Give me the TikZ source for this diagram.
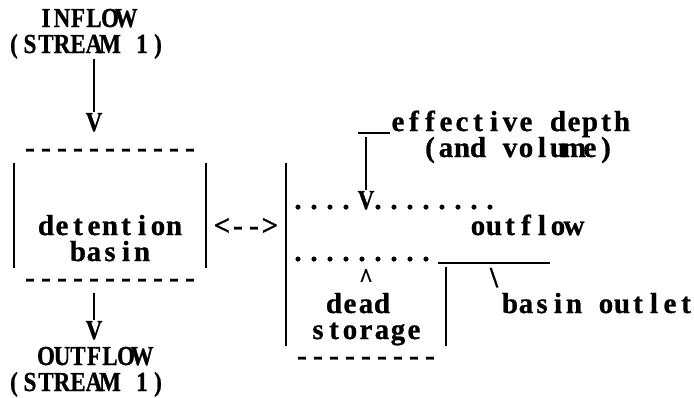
\documentclass[tikz,border=0pt]{standalone}
\usepackage{fontspec}
\usepackage{graphicx}
\setmainfont{Liberation Serif}[BoldFeatures={FakeBold=0.8}]

% fixed-pitch setting: every character sits centred in a cell of \cellw,
% squeezed horizontally by \monosx
\newlength\cellw
\setlength\cellw{16pt}
\def\monosx{1}
\makeatletter
\def\mono@stop{\mono@stop}
\def\mono#1{\mono@words#1 \mono@end}
\def\mono@words#1 #2\mono@end{%
  \mono@chars#1\mono@stop
  \if\relax\detokenize{#2}\relax\else\hbox to\cellw{}\mono@words#2\mono@end\fi}
\def\mono@chars#1{%
  \ifx\mono@stop#1\else
    \hbox to\cellw{\hss\scalebox{\monosx}[1]{#1}\hss}%
    \expandafter\mono@chars\fi}
\makeatother

\tikzset{
  txt/.style={inner sep=0pt, outer sep=0pt, anchor=base west,
              text height=19pt, text depth=6pt,
              font=\bfseries\fontsize{29}{29}\selectfont},
  caps/.style={txt, font=\bfseries\fontsize{27.5}{27.5}\selectfont\def\monosx{0.84}},
  dots/.style={txt, xshift=-4pt},
  pipe/.style={line width=1.8pt},
}

\begin{document}
\begin{tikzpicture}[x=1pt,y=-1pt]
\useasboundingbox (0,0) rectangle (694,397);

% ---- detention basin with inflow and outflow
\node[caps] (inflow)  at (38,27)  {\mono{INFLOW}};
\node[caps] (instrm)  at (6,53)   {\mono{(STREAM 1)}};
\node[caps] (vin)     at (86,131) {\mono{V}};
\node[txt]  (boxtop)  at (22,157) {\mono{-----------}};
\node[txt]  (det)     at (38,235) {\mono{detention}};
\node[txt]  (basin)   at (70,261) {\mono{basin}};
\node[txt]  (boxbot)  at (22,287) {\mono{-----------}};
\node[caps] (vout)    at (86,339) {\mono{V}};
\node[caps] (outflow) at (38,365) {\mono{OUTFLOW}};
\node[caps] (outstrm) at (6,391)  {\mono{(STREAM 1)}};
\node[txt]  (link)    at (214,235){\mono{<-->}};

% ---- cross-section of the basin
\node[txt]  (eff)     at (390,131){\mono{effective depth}};
\node[txt]  (vol)     at (422,157){\mono{(and volume)}};
\node[dots] (dotsA)   at (294,209){\mono{....}};
\node[caps] (vlvl)    at (358,209){\mono{V}};
\node[dots] (dotsB)   at (374,209){\mono{........}};
\node[txt]  (outfl)   at (470,235){\mono{outflow}};
\node[dots] (dotsC)   at (294,261){\mono{.........}};
\node[caps] (caret)   at (358,287){\mono{\textasciicircum}};
\node[txt]  (bslash)  at (486,287){\mono{\textbackslash}};
\node[txt]  (dead)    at (326,313){\mono{dead}};
\node[txt]  (outlet)  at (502,313){\mono{basin outlet}};
\node[txt]  (stor)    at (310,339){\mono{storage}};
\node[txt]  (floor)   at (294,365){\mono{---------}};

% ---- end points of the strokes
\coordinate (inA)   at (94,59);   \coordinate (inB)   at (94,112);
\coordinate (blA)   at (14,163);  \coordinate (blB)   at (14,268);
\coordinate (brA)   at (206,163); \coordinate (brB)   at (206,268);
\coordinate (outA)  at (94,293);  \coordinate (outB)  at (94,320);
\coordinate (wallA) at (286,163); \coordinate (wallB) at (286,346);
\coordinate (effA)  at (358,133); \coordinate (effB)  at (390,133);
\coordinate (ptrA)  at (366,137); \coordinate (ptrB)  at (366,190);
\coordinate (sillA) at (438,263); \coordinate (sillB) at (550,263);
\coordinate (wrA)   at (446,267); \coordinate (wrB)   at (446,346);

\draw[pipe] (inA) -- (inB);
\draw[pipe] (blA) -- (blB);
\draw[pipe] (brA) -- (brB);
\draw[pipe] (outA) -- (outB);
\draw[pipe] (wallA) -- (wallB);
\draw[pipe] (effA) -- (effB);
\draw[pipe] (ptrA) -- (ptrB);
\draw[pipe] (sillA) -- (sillB);
\draw[pipe] (wrA) -- (wrB);
\end{tikzpicture}
\end{document}
